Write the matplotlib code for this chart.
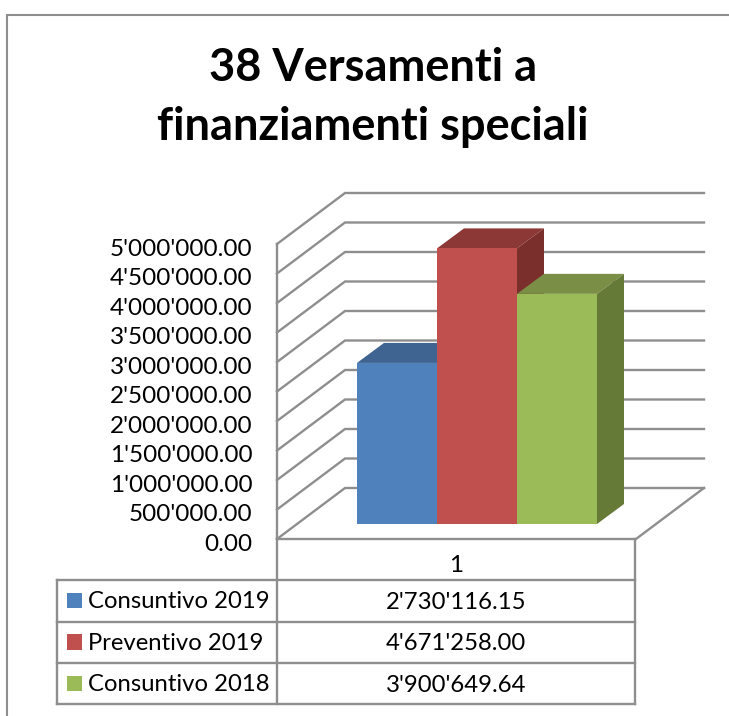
import matplotlib
matplotlib.use('Agg')
import matplotlib.pyplot as plt
from matplotlib.patches import Polygon, Rectangle
from matplotlib.transforms import ScaledTranslation

plt.rcParams['font.family'] = ['Lato', 'DejaVu Sans']

# Values
title_lines = ['38 Versamenti a', 'finanziamenti speciali']
series_names = ['Consuntivo 2019', 'Preventivo 2019', 'Consuntivo 2018']
series_values = [2730116.15, 4671258.00, 3900649.64]
value_labels = ["2'730'116.15", "4'671'258.00", "3'900'649.64"]
category = '1'
tick_values = [0, 500000, 1000000, 1500000, 2000000, 2500000,
               3000000, 3500000, 4000000, 4500000, 5000000]
tick_labels = ['0.00', "500'000.00", "1'000'000.00", "1'500'000.00", "2'000'000.00",
               "2'500'000.00", "3'000'000.00", "3'500'000.00", "4'000'000.00",
               "4'500'000.00", "5'000'000.00"]

# Colours: front, top, side
front_colors = ['#4F81BD', '#C0504D', '#9BBB59']
top_colors = ['#3F6491', '#8C3836', '#7A8F45']
side_colors = ['#35557D', '#7A2F2D', '#667A38']
line_color = '#8E8E8E'

W, H = 729, 716
fig = plt.figure(figsize=(W / 100, H / 100), dpi=100)

# Full figure axes in pixels for the frame, title and table
page = fig.add_axes([0, 0, 1, 1])
page.set_xlim(0, W)
page.set_ylim(H, 0)
page.axis('off')

# Value axes over the front edge of the left wall
left, right, floor_y, top_y = 277, 636, 539, 244
ax = fig.add_axes([left / W, (H - floor_y) / H, (right - left) / W, (floor_y - top_y) / H])
ax.set_xlim(left, right)
ax.set_ylim(0, 5000000)
ax.patch.set_visible(False)
for spine in ax.spines.values():
    spine.set_visible(False)
ax.set_xticks([])
ax.set_yticks(tick_values)
ax.set_yticklabels(tick_labels, fontsize=17.5)
ax.tick_params(axis='y', length=0, pad=17.5)
# nudge the tick labels down a little
shift = ScaledTranslation(0, -2.5 / 72, fig.dpi_scale_trans)
for lab in ax.get_yticklabels():
    lab.set_transform(lab.get_transform() + shift)

px = 5000000 / (floor_y - top_y)  # value per pixel
wall_dx, wall_dy = 68, 51
grid_right = 704

# Walls and gridlines
for v in tick_values:
    ax.plot([left, left + wall_dx, grid_right], [v, v + wall_dy * px, v + wall_dy * px],
            color=line_color, lw=1.7, clip_on=False, zorder=1, solid_joinstyle='miter')
ax.plot([left, left], [0, 5000000], color=line_color, lw=1.7, clip_on=False, zorder=1)
ax.plot([left, right, grid_right], [0, 0, wall_dy * px], color=line_color, lw=1.7,
        clip_on=False, zorder=1)

# Bars
bar_x = 357
bar_w = 80
base = 15 * px
dx, dy = 27, 20 * px
for i, v in enumerate(series_values):
    x0 = bar_x + i * bar_w
    x1 = x0 + bar_w
    y1 = base + v
    z = 2 + i
    ax.add_patch(Polygon([(x0, y1), (x0 + dx, y1 + dy), (x1 + dx, y1 + dy), (x1, y1)],
                         facecolor=top_colors[i], edgecolor='none', clip_on=False, zorder=z))
    ax.add_patch(Polygon([(x1, base), (x1 + dx, base + dy), (x1 + dx, y1 + dy), (x1, y1)],
                         facecolor=side_colors[i], edgecolor='none', clip_on=False, zorder=z))
    ax.bar(x0, v, width=bar_w, bottom=base, align='edge', color=front_colors[i],
           clip_on=False, zorder=z)

# Outer frame
page.plot([7.5, 7.5, W], [H, 14.5, 14.5], color=line_color, lw=1.5, solid_joinstyle='miter')

# Title
page.text(373, 68, title_lines[0], ha='center', va='center', fontsize=32.5, fontweight='bold')
page.text(373, 127, title_lines[1], ha='center', va='center', fontsize=32.5, fontweight='bold')

# Data table
row_y = [580, 621.5, 663, 704]
table_left, table_mid, table_right = 57, 277, 635
page.plot([table_mid, table_mid], [floor_y, row_y[-1]], color=line_color, lw=1.7)
page.plot([table_right, table_right], [floor_y, row_y[-1]], color=line_color, lw=1.7)
page.plot([table_left, table_left], [row_y[0], row_y[-1]], color=line_color, lw=1.7)
for y in row_y:
    page.plot([table_left, table_right], [y, y], color=line_color, lw=1.7)

mid_x = (table_mid + table_right) / 2
page.text(mid_x, 566, category, ha='center', va='center', fontsize=17.5)
for i, name in enumerate(series_names):
    cy = (row_y[i] + row_y[i + 1]) / 2
    page.add_patch(Rectangle((67, cy - 8), 15, 15.5, facecolor=front_colors[i], edgecolor='none'))
    page.text(88, cy + 1, name, ha='left', va='center', fontsize=17.2)
    page.text(mid_x, cy + 1.5, value_labels[i], ha='center', va='center', fontsize=17.2)

fig.savefig('out.png', dpi=100, facecolor='white')
